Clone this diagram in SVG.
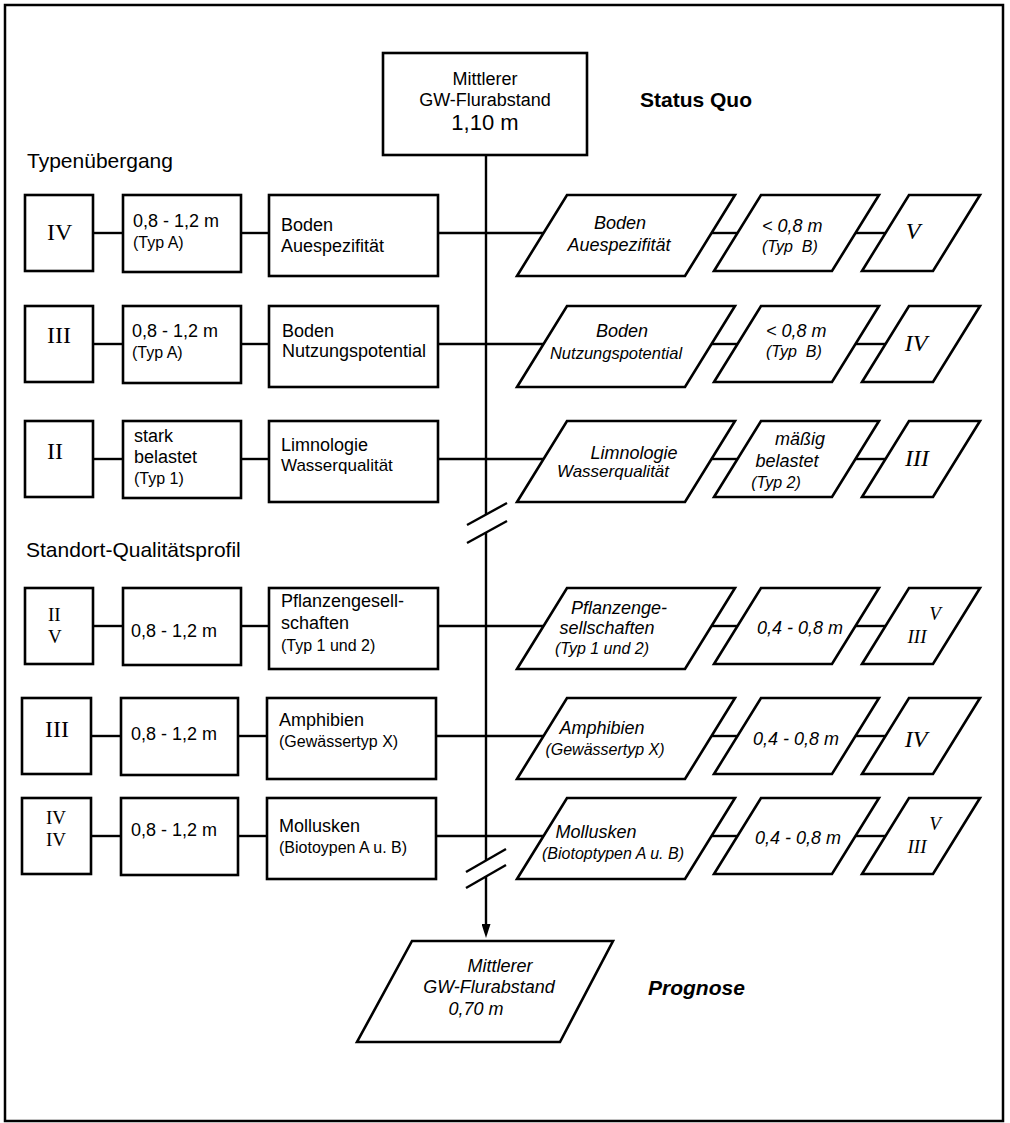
<svg xmlns="http://www.w3.org/2000/svg" width="1010" height="1123" viewBox="0 0 1010 1123">
<style>
.bx{fill:#fff;stroke:#000;stroke-width:2.6}
.ln{stroke:#000;stroke-width:2.4;fill:none}
.t{font-family:"Liberation Sans",Arial,Helvetica,sans-serif;font-size:18px;fill:#000}
.s{font-size:16px}
.i{font-style:italic}
.m{text-anchor:middle}
.r{font-family:"Liberation Serif","Times New Roman",serif;font-size:24px;fill:#000}
.r2{font-size:19px}
.h{font-family:"Liberation Sans",Arial,Helvetica,sans-serif;font-size:21px;fill:#000}
.b{font-weight:bold}
.pre{white-space:pre}
</style>
<defs>
<marker id="arr" markerUnits="userSpaceOnUse" markerWidth="14" markerHeight="9" refX="0" refY="4.5" orient="auto">
<path d="M0,0 L14,4.5 L0,9 Z" fill="#000"/>
</marker>
</defs>
<rect width="1010" height="1123" fill="#fff"/>
<rect x="5" y="5" width="998" height="1116" fill="none" stroke="#000" stroke-width="2.5"/>

<g id="labels">
<text class="h" x="27" y="168">Typenübergang</text>
<text class="h" x="26" y="557">Standort-Qualitätsprofil</text>
<text class="h b" x="640" y="107">Status Quo</text>
<text class="h b i" x="648" y="995">Prognose</text>
</g>

<g id="connectors">
<line class="ln" x1="486" y1="155" x2="486" y2="514"/>
<line class="ln" x1="486" y1="532" x2="486" y2="860"/>
<line class="ln" x1="486" y1="876" x2="486" y2="924" marker-end="url(#arr)"/>
<line class="ln" x1="467" y1="525" x2="507" y2="503"/>
<line class="ln" x1="467" y1="543" x2="507" y2="521"/>
<line class="ln" x1="466" y1="872" x2="506" y2="849"/>
<line class="ln" x1="466" y1="888" x2="506" y2="865"/>
<line class="ln" x1="93" y1="233" x2="123" y2="233"/>
<line class="ln" x1="241" y1="233" x2="269" y2="233"/>
<line class="ln" x1="438" y1="233" x2="543.5" y2="233"/>
<line class="ln" x1="711.5" y1="233" x2="737.5" y2="233"/>
<line class="ln" x1="855.5" y1="233" x2="885.5" y2="233"/>
<line class="ln" x1="93" y1="344" x2="123" y2="344"/>
<line class="ln" x1="241" y1="344" x2="269" y2="344"/>
<line class="ln" x1="438" y1="344" x2="543.5" y2="344"/>
<line class="ln" x1="711.5" y1="344" x2="737.5" y2="344"/>
<line class="ln" x1="855.5" y1="344" x2="885.5" y2="344"/>
<line class="ln" x1="93" y1="459" x2="123" y2="459"/>
<line class="ln" x1="241" y1="459" x2="269" y2="459"/>
<line class="ln" x1="438" y1="459" x2="543.5" y2="459"/>
<line class="ln" x1="711.5" y1="459" x2="737.5" y2="459"/>
<line class="ln" x1="855.5" y1="459" x2="885.5" y2="459"/>
<line class="ln" x1="93" y1="626" x2="123" y2="626"/>
<line class="ln" x1="241" y1="626" x2="269" y2="626"/>
<line class="ln" x1="438" y1="626" x2="543.5" y2="626"/>
<line class="ln" x1="711.5" y1="626" x2="737.5" y2="626"/>
<line class="ln" x1="855.5" y1="626" x2="885.5" y2="626"/>
<line class="ln" x1="91" y1="736" x2="121" y2="736"/>
<line class="ln" x1="238" y1="736" x2="267" y2="736"/>
<line class="ln" x1="436" y1="736" x2="543.5" y2="736"/>
<line class="ln" x1="711.5" y1="736" x2="737.5" y2="736"/>
<line class="ln" x1="855.5" y1="736" x2="885.5" y2="736"/>
<line class="ln" x1="91" y1="836" x2="121" y2="836"/>
<line class="ln" x1="238" y1="836" x2="267" y2="836"/>
<line class="ln" x1="436" y1="836" x2="543.5" y2="836"/>
<line class="ln" x1="711.5" y1="836" x2="737.5" y2="836"/>
<line class="ln" x1="855.5" y1="836" x2="885.5" y2="836"/>
</g>

<g id="status-quo">
<rect class="bx" x="383" y="53" width="204" height="102"/>
<text class="t m" x="485" y="85">Mittlerer</text>
<text class="t m" x="485" y="106">GW-Flurabstand</text>
<text class="t m" x="485" y="130" style="font-size:22px">1,10 m</text>
</g>

<g id="r1-grade"><rect class="bx" x="25" y="195" width="68" height="76"/><text class="r" x="47" y="240">IV</text></g>
<g id="r1-range"><rect class="bx" x="123" y="195" width="118" height="77"/><text class="t" x="133" y="227">0,8 - 1,2 m</text><text class="t s" x="133" y="248">(Typ A)</text></g>
<g id="r1-topic"><rect class="bx" x="269" y="195" width="169" height="81"/><text class="t" x="281" y="231">Boden</text><text class="t" x="281" y="252">Auespezifität</text></g>
<g id="r1-ptopic"><polygon class="bx" points="567,195 735,195 685,276 517,276"/><text class="t i m" x="620" y="229">Boden</text><text class="t i m" x="619" y="251">Auespezifität</text></g>
<g id="r1-prange"><polygon class="bx" points="761,195 879,195 832,271 714,271"/><text class="t i" x="762" y="232">&lt; 0,8 m</text><text class="t s i pre" x="762" y="252">(Typ  B)</text></g>
<g id="r1-pgrade"><polygon class="bx" points="909,195 980,195 933,271 862,271"/><text class="r i m" x="913" y="239">V</text></g>

<g id="r2-grade"><rect class="bx" x="25" y="306" width="68" height="76"/><text class="r" x="47" y="343">III</text></g>
<g id="r2-range"><rect class="bx" x="123" y="306" width="118" height="77"/><text class="t" x="132" y="337">0,8 - 1,2 m</text><text class="t s" x="132" y="358">(Typ A)</text></g>
<g id="r2-topic"><rect class="bx" x="269" y="306" width="169" height="81"/><text class="t" x="282" y="337">Boden</text><text class="t" x="282" y="357">Nutzungspotential</text></g>
<g id="r2-ptopic"><polygon class="bx" points="567,306 735,306 685,387 517,387"/><text class="t i m" x="622" y="337">Boden</text><text class="t i m" x="616" y="359" style="font-size:16.5px">Nutzungspotential</text></g>
<g id="r2-prange"><polygon class="bx" points="761,306 879,306 832,382 714,382"/><text class="t i" x="766" y="337">&lt; 0,8 m</text><text class="t s i pre" x="766" y="357">(Typ  B)</text></g>
<g id="r2-pgrade"><polygon class="bx" points="909,306 980,306 933,382 862,382"/><text class="r i m" x="916" y="351">IV</text></g>

<g id="r3-grade"><rect class="bx" x="25" y="421" width="68" height="76"/><text class="r" x="47" y="459">II</text></g>
<g id="r3-range"><rect class="bx" x="123" y="421" width="118" height="77"/><text class="t" x="134" y="442">stark</text><text class="t" x="134" y="463">belastet</text><text class="t s" x="134" y="484">(Typ 1)</text></g>
<g id="r3-topic"><rect class="bx" x="269" y="421" width="169" height="81"/><text class="t" x="281" y="451">Limnologie</text><text class="t" x="281" y="471" style="font-size:17px">Wasserqualität</text></g>
<g id="r3-ptopic"><polygon class="bx" points="567,421 735,421 685,502 517,502"/><text class="t i m" x="634" y="459">Limnologie</text><text class="t i m" x="613" y="477" style="font-size:17px">Wasserqualität</text></g>
<g id="r3-prange"><polygon class="bx" points="761,421 879,421 832,497 714,497"/><text class="t i m" x="800" y="445">mäßig</text><text class="t i m" x="787" y="467">belastet</text><text class="t s i m" x="776" y="488">(Typ 2)</text></g>
<g id="r3-pgrade"><polygon class="bx" points="909,421 980,421 933,497 862,497"/><text class="r i m" x="917" y="466">III</text></g>

<g id="r4-grade"><rect class="bx" x="25" y="588" width="68" height="76"/><text class="r r2" x="48" y="621">II</text><text class="r r2" x="48" y="643">V</text></g>
<g id="r4-range"><rect class="bx" x="123" y="588" width="118" height="77"/><text class="t" x="131" y="637">0,8 - 1,2 m</text></g>
<g id="r4-topic"><rect class="bx" x="269" y="588" width="169" height="81"/><text class="t" x="281" y="607">Pflanzengesell-</text><text class="t" x="281" y="629">schaften</text><text class="t s" x="281" y="651">(Typ 1 und 2)</text></g>
<g id="r4-ptopic"><polygon class="bx" points="567,588 735,588 685,669 517,669"/><text class="t i m" x="619" y="614">Pflanzenge-</text><text class="t i m" x="607" y="634">sellschaften</text><text class="t s i m" x="602" y="654">(Typ 1 und 2)</text></g>
<g id="r4-prange"><polygon class="bx" points="761,588 879,588 832,664 714,664"/><text class="t i m" x="800" y="634">0,4 - 0,8 m</text></g>
<g id="r4-pgrade"><polygon class="bx" points="909,588 980,588 933,664 862,664"/><text class="r r2 i m" x="935" y="620">V</text><text class="r r2 i m" x="917" y="643">III</text></g>

<g id="r5-grade"><rect class="bx" x="22" y="698" width="69" height="76"/><text class="r" x="45" y="737">III</text></g>
<g id="r5-range"><rect class="bx" x="121" y="698" width="117" height="77"/><text class="t" x="131" y="740">0,8 - 1,2 m</text></g>
<g id="r5-topic"><rect class="bx" x="267" y="698" width="169" height="81"/><text class="t" x="279" y="726">Amphibien</text><text class="t s" x="279" y="747">(Gewässertyp X)</text></g>
<g id="r5-ptopic"><polygon class="bx" points="567,698 735,698 685,779 517,779"/><text class="t i m" x="602" y="734">Amphibien</text><text class="t s i m" x="605" y="755">(Gewässertyp X)</text></g>
<g id="r5-prange"><polygon class="bx" points="761,698 879,698 832,774 714,774"/><text class="t i m" x="796" y="745">0,4 - 0,8 m</text></g>
<g id="r5-pgrade"><polygon class="bx" points="909,698 980,698 933,774 862,774"/><text class="r i m" x="916" y="747">IV</text></g>

<g id="r6-grade"><rect class="bx" x="22" y="798" width="69" height="76"/><text class="r r2" x="46" y="824">IV</text><text class="r r2" x="46" y="846">IV</text></g>
<g id="r6-range"><rect class="bx" x="121" y="798" width="117" height="77"/><text class="t" x="131" y="836">0,8 - 1,2 m</text></g>
<g id="r6-topic"><rect class="bx" x="267" y="798" width="169" height="81"/><text class="t" x="279" y="832">Mollusken</text><text class="t s" x="279" y="853">(Biotoypen A u. B)</text></g>
<g id="r6-ptopic"><polygon class="bx" points="567,798 735,798 685,879 517,879"/><text class="t i m" x="596" y="838">Mollusken</text><text class="t s i m" x="613" y="859">(Biotoptypen A u. B)</text></g>
<g id="r6-prange"><polygon class="bx" points="761,798 879,798 832,874 714,874"/><text class="t i m" x="798" y="844">0,4 - 0,8 m</text></g>
<g id="r6-pgrade"><polygon class="bx" points="909,798 980,798 933,874 862,874"/><text class="r r2 i m" x="935" y="830">V</text><text class="r r2 i m" x="917" y="853">III</text></g>

<g id="prognose">
<polygon class="bx" points="412,941 613,941 560,1042 357,1042"/>
<text class="t i m" x="500" y="972">Mittlerer</text>
<text class="t i m" x="489" y="993">GW-Flurabstand</text>
<text class="t i m" x="476" y="1015">0,70 m</text>
</g>
</svg>
